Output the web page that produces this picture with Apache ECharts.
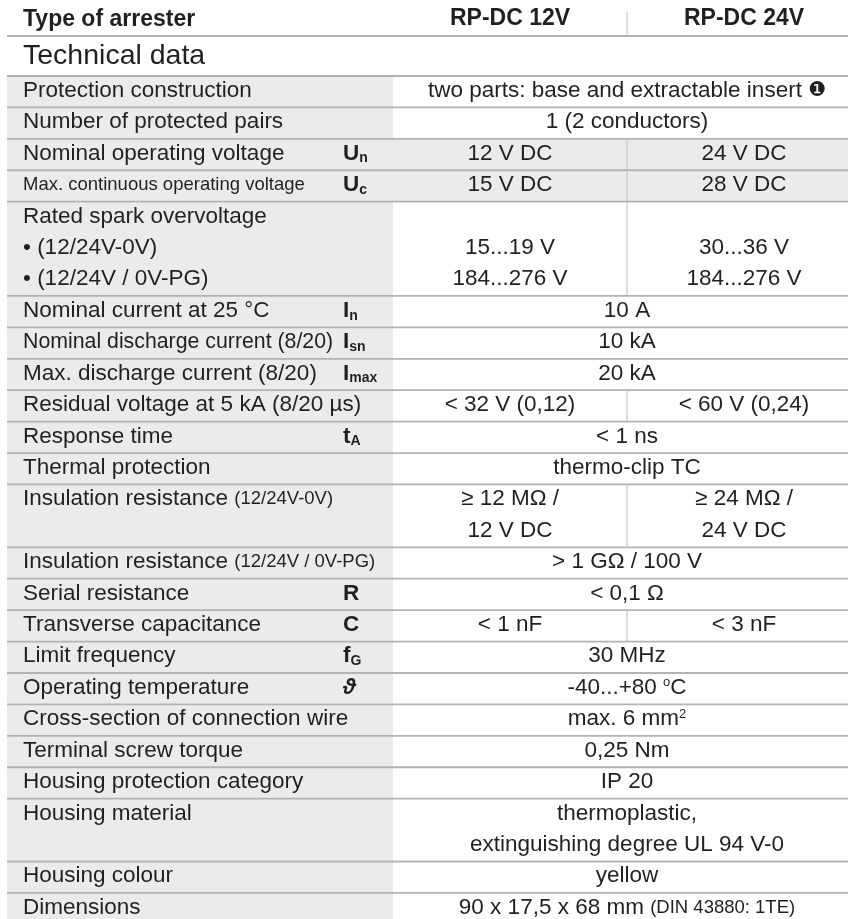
<!DOCTYPE html>
<html><head><meta charset="utf-8">
<script src="https://cdn.jsdelivr.net/npm/echarts@6/dist/echarts.min.js"></script>
<style>html,body{margin:0;padding:0;background:#fff}#c{width:848px;height:919px}</style>
</head><body><div id="c"></div>
<script>
// ---------- content ----------
const headerLabel = 'Type of arrester';
const models = ['RP-DC 12V', 'RP-DC 24V'];
const sectionTitle = 'Technical data';

const parameters = [
  'Protection construction',
  'Number of protected pairs',
  'Nominal operating voltage',
  '{m|Max. continuous operating voltage}',
  'Rated spark overvoltage\n• (12/24V-0V)\n• (12/24V / 0V-PG)',
  'Nominal current at 25 °C',
  '{n|Nominal discharge current (8/20)}',
  'Max. discharge current (8/20)',
  'Residual voltage at 5 kA (8/20 µs)',
  'Response time',
  'Thermal protection',
  'Insulation resistance {s|(12/24V-0V)}',
  'Insulation resistance {s|(12/24V / 0V-PG)}',
  'Serial resistance',
  'Transverse capacitance',
  'Limit frequency',
  'Operating temperature',
  'Cross-section of connection wire',
  'Terminal screw torque',
  'Housing protection category',
  'Housing material',
  'Housing colour',
  'Dimensions'
];

const symbols = [
  null, null, ['U', 'n'], ['U', 'c'], null, ['I', 'n'], ['I', 'sn'], ['I', 'max'], null,
  ['t', 'A'], null, null, null, ['R', ''], ['C', ''], ['f', 'G'], ['ϑ', ''],
  null, null, null, null, null, null
];

const values12V = [
  'two parts: base and extractable insert {c|❶}',
  '1 (2 conductors)',
  '12 V DC',
  '15 V DC',
  '\n15...19 V\n184...276 V',
  '10 A',
  '10 kA',
  '20 kA',
  '< 32 V (0,12)',
  '< 1 ns',
  'thermo-clip TC',
  '≥ 12 MΩ /\n12 V DC',
  '> 1 GΩ / 100 V',
  '< 0,1 Ω',
  '< 1 nF',
  '30 MHz',
  '-40...+80 {sup|o}C',
  'max. 6 mm{sup|2}',
  '0,25 Nm',
  'IP 20',
  'thermoplastic,\nextinguishing degree UL 94 V-0',
  'yellow',
  '90 x 17,5 x 68 mm {s|(DIN 43880: 1TE)}'
];

// null = same value for both models (merged cell)
const values24V = [
  null, null, '24 V DC', '28 V DC', '\n30...36 V\n184...276 V', null, null, null,
  '< 60 V (0,24)', null, null, '≥ 24 MΩ /\n24 V DC', null, null, '< 3 nF',
  null, null, null, null, null, null, null, null
];

const shadedRows = [2, 3];

// ---------- layout ----------
const W = 848, H = 919;
const LINE = 31.42;
const TABLE_TOP = 76;
const X = { left: 7, label: 23, symbol: 343, labelRight: 393, split: 627, right: 848, c1: 510, c2: 744, span: 627 };
const FONT = '"Liberation Sans", Arial, Helvetica, sans-serif';
const INK = '#231f20';
const RULE = '#b3b3b3';
const SHADE = '#ebebeb';

function nLines(s) { return s == null ? 0 : s.split('\n').length; }
const lineCounts = parameters.map((p, i) => Math.max(nLines(p), nLines(values12V[i]), nLines(values24V[i])));
const starts = []; let acc = 0;
lineCounts.forEach(n => { starts.push(acc); acc += n; });
const rows = parameters.map((p, i) => [i, starts[i], starts[i] + lineCounts[i]]);

const yMin = -TABLE_TOP / LINE;
const yMax = yMin + H / LINE;

function richStyles(lh) {
  return {
    s: { fontFamily: FONT, fontSize: 18.5, fill: INK, lineHeight: lh },
    m: { fontFamily: FONT, fontSize: 18.5, fill: INK, lineHeight: lh },
    n: { fontFamily: FONT, fontSize: 21.3, fill: INK, lineHeight: lh },
    c: { fontFamily: '"DejaVu Sans", sans-serif', fontSize: 20, fill: INK, lineHeight: lh },
    sup: { fontFamily: FONT, fontSize: 13, fill: INK, lineHeight: lh, padding: [0, 0, 10, 0] },
    b: { fontFamily: FONT, fontSize: 22.5, fontWeight: 'bold', fill: INK, lineHeight: lh },
    bi: { fontFamily: FONT, fontSize: 22, fontWeight: 'bold', fontStyle: 'italic', fill: INK, lineHeight: lh },
    sub: { fontFamily: FONT, fontSize: 14, fontWeight: 'bold', fill: INK, lineHeight: lh, padding: [10, 0, 0, 0] }
  };
}

function renderItem(params, api) {
  const i = api.value(0);
  const y0 = api.value(1), y1 = api.value(2);
  const lh = api.size([0, 1])[1];
  const top = api.coord([0, y0])[1];
  const bottom = api.coord([0, y1])[1];
  const px = x => api.coord([x, y0])[0];
  const rich = richStyles(lh);
  const children = [];
  children.push({ type: 'rect', shape: { x: px(X.left), y: top, width: px(X.labelRight) - px(X.left), height: bottom - top }, style: { fill: SHADE } });
  if (shadedRows.indexOf(i) >= 0) {
    children.push({ type: 'rect', shape: { x: px(X.labelRight), y: top, width: px(X.right) - px(X.labelRight), height: bottom - top }, style: { fill: SHADE } });
  }
  children.push({ type: 'line', shape: { x1: px(X.left), y1: top, x2: px(X.right), y2: top }, style: { stroke: RULE, lineWidth: 1.8 } });
  const split = values24V[i] != null;
  if (split) {
    children.push({ type: 'line', shape: { x1: px(X.split), y1: top, x2: px(X.split), y2: bottom }, style: { stroke: '#c4c4c4', lineWidth: 1.2 } });
  }
  const ty = top - 1;
  const base = { fill: INK, fontFamily: FONT, fontSize: 22.5, lineHeight: lh, verticalAlign: 'top', rich: rich };
  children.push({ type: 'text', style: Object.assign({}, base, { text: parameters[i], x: px(X.label), y: ty, align: 'left' }) });
  const sym = symbols[i];
  if (sym) {
    const main = sym[0] === 'ϑ' ? '{bi|ϑ}' : '{b|' + sym[0] + '}';
    const txt = main + (sym[1] ? '{sub|' + sym[1] + '}' : '');
    children.push({ type: 'text', style: Object.assign({}, base, { text: txt, x: px(X.symbol), y: ty, align: 'left' }) });
  }
  if (split) {
    children.push({ type: 'text', style: Object.assign({}, base, { text: values12V[i], x: px(X.c1), y: ty, align: 'center' }) });
    children.push({ type: 'text', style: Object.assign({}, base, { text: values24V[i], x: px(X.c2), y: ty, align: 'center' }) });
  } else {
    children.push({ type: 'text', style: Object.assign({}, base, { text: values12V[i], x: px(X.span), y: ty, align: 'center' }) });
  }
  return { type: 'group', children: children };
}

const chart = echarts.init(document.getElementById('c'), null, { renderer: 'canvas' });
chart.setOption({
  animation: false,
  backgroundColor: '#ffffff',
  grid: { left: 0, right: 0, top: 0, bottom: 0 },
  xAxis: { type: 'value', min: 0, max: W, show: false },
  yAxis: { type: 'value', min: yMin, max: yMax, inverse: true, show: false },
  graphic: [
    { type: 'text', left: X.label, top: 8, style: { text: headerLabel, font: 'bold 23px ' + FONT, fill: INK } },
    { type: 'text', x: X.c1, y: 19, style: { text: models[0], font: 'bold 23px ' + FONT, fill: INK, align: 'center', verticalAlign: 'middle' } },
    { type: 'text', x: X.c2, y: 19, style: { text: models[1], font: 'bold 23px ' + FONT, fill: INK, align: 'center', verticalAlign: 'middle' } },
    { type: 'line', shape: { x1: X.split, y1: 12, x2: X.split, y2: 36 }, style: { stroke: '#cccccc', lineWidth: 1.2 } },
    { type: 'line', shape: { x1: X.left, y1: 36, x2: X.right, y2: 36 }, style: { stroke: RULE, lineWidth: 1.8 } },
    { type: 'text', x: X.label, y: 56, style: { text: sectionTitle, font: '28.5px ' + FONT, fill: INK, align: 'left', verticalAlign: 'middle' } }
  ],
  series: [{
    type: 'custom',
    coordinateSystem: 'cartesian2d',
    clip: false,
    encode: { x: 0, y: [1, 2] },
    data: rows,
    renderItem: renderItem
  }]
});
</script>
</body></html>
